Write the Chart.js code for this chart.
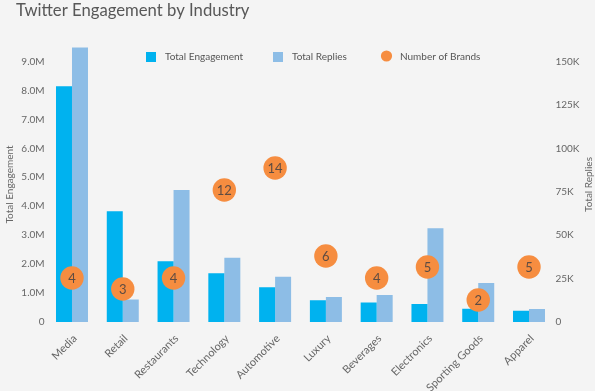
<!DOCTYPE html>
<html><head><meta charset="utf-8">
<script src="https://cdn.jsdelivr.net/npm/chart.js@4/dist/chart.umd.min.js"></script>
<style>html,body{margin:0;padding:0;background:#f4f4f4;overflow:hidden}#wrap{position:relative;width:595px;height:391px}</style>
</head><body><div id="wrap"><canvas id="c" width="595" height="391"></canvas></div>
<script>
const categories = ['Media','Retail','Restaurants','Technology','Automotive','Luxury','Beverages','Electronics','Sporting Goods','Apparel'];
const totalEngagement = [8140000, 3830000, 2100000, 1680000, 1200000, 750000, 670000, 620000, 460000, 390000];
const totalReplies = [158000, 13000, 76000, 37000, 26000, 14400, 15500, 54000, 22500, 7500];
const numberOfBrands = [4, 3, 4, 12, 14, 6, 4, 5, 2, 5];
const engagementTicks = [0, 1000000, 2000000, 3000000, 4000000, 5000000, 6000000, 7000000, 8000000, 9000000];
const repliesTicks = [0, 25000, 50000, 75000, 100000, 125000, 150000];

const FONT = 'Lato, "Open Sans", sans-serif';
const C_ENG = '#00b2ef', C_REP = '#8dbde6', C_BR = '#f68d40';
const TXT = '#666666';

const overlay = {
  id: 'overlay',
  afterDatasetsDraw(chart) {
    const ctx = chart.ctx;
    const meta = chart.getDatasetMeta(2);
    ctx.save();
    ctx.font = '13px ' + FONT;
    ctx.fillStyle = '#5e4c42';
    ctx.textAlign = 'center';
    ctx.textBaseline = 'middle';
    meta.data.forEach((pt, i) => ctx.fillText(String(chart.data.datasets[2].data[i]), pt.x, pt.y + 0.5));
    ctx.restore();
  },
  afterDraw(chart) {
    const ctx = chart.ctx;
    const ca = chart.chartArea;
    ctx.save();
    // title
    ctx.font = '16.7px ' + FONT;
    ctx.fillStyle = '#585858';
    ctx.textAlign = 'left';
    ctx.textBaseline = 'alphabetic';
    ctx.fillText('Twitter Engagement by Industry', 16, 16);
    // legend
    const ds = chart.data.datasets;
    ctx.font = '10px ' + FONT;
    ctx.textBaseline = 'middle';
    const ly = 57;
    ctx.fillStyle = ds[0].backgroundColor; ctx.fillRect(146, ly - 5, 10, 10);
    ctx.fillStyle = '#555555'; ctx.fillText(ds[0].label, 165, ly);
    ctx.fillStyle = ds[1].backgroundColor; ctx.fillRect(273, ly - 5, 10, 10);
    ctx.fillStyle = '#555555'; ctx.fillText(ds[1].label, 292, ly);
    ctx.fillStyle = ds[2].pointBackgroundColor; ctx.beginPath(); ctx.arc(386.5, ly - 1, 5.6, 0, Math.PI * 2); ctx.fill();
    ctx.fillStyle = '#555555'; ctx.fillText(ds[2].label, 400, ly);
    // right axis title (reads bottom to top)
    ctx.translate(589, (ca.top + ca.bottom) / 2);
    ctx.rotate(-Math.PI / 2);
    ctx.textAlign = 'center';
    ctx.fillStyle = TXT;
    ctx.fillText('Total Replies', 0, 0);
    ctx.restore();
  }
};

new Chart(document.getElementById('c'), {
  data: {
    labels: categories,
    datasets: [
      { type: 'bar', label: 'Total Engagement', data: totalEngagement, backgroundColor: C_ENG, yAxisID: 'y', order: 1,
        barPercentage: 1, categoryPercentage: 0.63 },
      { type: 'bar', label: 'Total Replies', data: totalReplies, backgroundColor: C_REP, yAxisID: 'y1', order: 1,
        barPercentage: 1, categoryPercentage: 0.63 },
      { type: 'line', label: 'Number of Brands', data: numberOfBrands, yAxisID: 'yb', order: 0, showLine: false,
        pointRadius: 11.7, pointHoverRadius: 11.7, pointBackgroundColor: C_BR, pointBorderWidth: 0, borderColor: C_BR, backgroundColor: C_BR }
    ]
  },
  options: {
    responsive: false,
    animation: false,
    layout: { padding: { top: 47, left: 0, right: 0, bottom: 0 } },
    plugins: { legend: { display: false }, title: { display: false }, tooltip: { enabled: false } },
    scales: {
      x: {
        offset: true,
        grid: { display: false, drawTicks: false },
        border: { display: false },
        ticks: { color: TXT, font: { family: FONT, size: 11 }, minRotation: 45, maxRotation: 45, padding: 10, labelOffset: 3, autoSkip: false },
        afterFit(s) { s.height = 69; }
      },
      y: {
        position: 'left', min: 0, max: 9500000,
        grid: { display: false, drawTicks: false },
        border: { display: false },
        afterBuildTicks(s) { s.ticks = engagementTicks.map(v => ({ value: v })); },
        ticks: { color: TXT, font: { family: FONT, size: 10 }, padding: 2,
          callback: v => v === 0 ? '0' : (v / 1000000).toFixed(1) + 'M' },
        title: { display: true, text: 'Total Engagement', color: TXT, font: { family: FONT, size: 10 }, padding: { top: 4, bottom: 4 } },
        afterFit(s) { s.width = 46.6; }
      },
      y1: {
        position: 'right', min: 0, max: 158333,
        grid: { display: false, drawTicks: false },
        border: { display: false },
        afterBuildTicks(s) { s.ticks = repliesTicks.map(v => ({ value: v })); },
        ticks: { color: TXT, font: { family: FONT, size: 10 }, padding: 1,
          callback: v => v === 0 ? '0' : (v / 1000) + 'K' },
        afterFit(s) { s.width = 40.6; }
      },
      yb: {
        display: false, min: 0, max: 25
      }
    }
  },
  plugins: [overlay]
});
</script>
</body></html>
